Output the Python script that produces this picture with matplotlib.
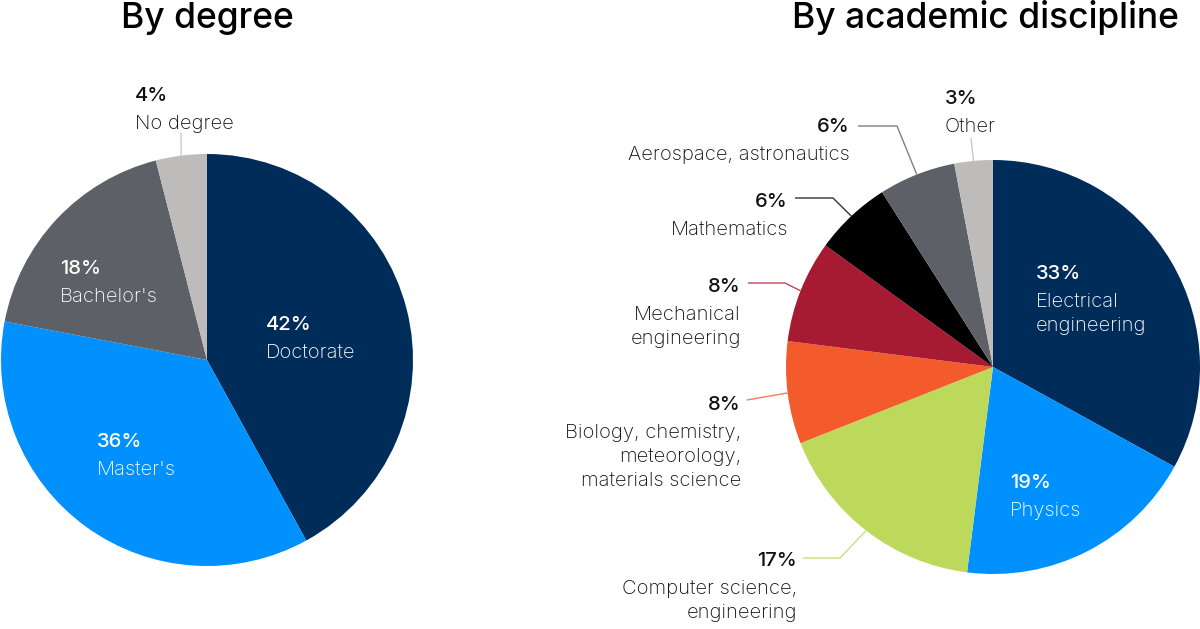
import numpy as np
import matplotlib.pyplot as plt

plt.rcParams['font.family'] = ['Inter', 'DejaVu Sans']

W, H = 1200, 629

# data
degree_labels = ["Doctorate", "Master's", "Bachelor's", "No degree"]
degree_values = [42, 36, 18, 4]
degree_colors = ['#002C5A', '#0091FF', '#5D6066', '#BEBCBA']

disc_labels = ["Electrical\nengineering", "Physics", "Computer science,\nengineering",
               "Biology, chemistry,\nmeteorology,\nmaterials science",
               "Mechanical\nengineering", "Mathematics", "Aerospace, astronautics", "Other"]
disc_values = [33, 19, 17, 8, 8, 6, 6, 3]
disc_colors = ['#002C5A', '#0091FF', '#BCD95B', '#F45B2C', '#A61A32', '#000000', '#5D6066', '#BEBCBA']

# label layout in image pixels: (x, baseline of pct, ha, text colour, leader elbow, leader end)
degree_layout = [
    (266, 330, 'left', 'white', None, None),
    (97, 447, 'left', 'white', None, None),
    (60, 274, 'left', 'white', None, None),
    (135, 101, 'left', '#111111', (181, 133), None),
]
disc_layout = [
    (1036, 279, 'left', 'white', None, None),
    (1010, 488, 'left', 'white', None, None),
    (797, 566, 'right', '#111111', (840, 558), (803, 558)),
    (741, 410, 'right', '#111111', None, (747, 400)),
    (741, 292, 'right', '#111111', (785, 283), (748, 283)),
    (788, 207, 'right', '#111111', (833, 198), (795, 198)),
    (850, 132, 'right', '#111111', (897, 126), (858, 126)),
    (945, 104, 'left', '#111111', (971, 138), None),
]

fig = plt.figure(figsize=(W / 100, H / 100), dpi=100)
ax = fig.add_axes([0, 0, 1, 1])


def Y(y):
    return H - y


def draw_pie(values, labels, colors, layout, cx, cy, r):
    wedges, _ = ax.pie(values, colors=colors, startangle=90, counterclock=False,
                       center=(cx, Y(cy)), radius=r, wedgeprops=dict(linewidth=0))
    for i, (w, lab, col) in enumerate(zip(wedges, labels, colors)):
        x, yb, ha, tc, elbow, end = layout[i]
        ax.text(x, Y(yb), f"{values[i]}%", ha=ha, va='baseline', fontsize=14.5,
                fontweight='medium', color=tc)
        for j, line in enumerate(lab.split('\n')):
            ax.text(x, Y(yb + 28 + j * 24), line, ha=ha, va='baseline',
                    fontsize=14.5, fontweight='light', color=tc)
        if elbow is None and end is None:
            continue
        mid = np.deg2rad((w.theta1 + w.theta2) / 2)
        xs = [cx + r * np.cos(mid)]
        ys = [Y(cy) + r * np.sin(mid)]
        for p in (elbow, end):
            if p is not None:
                xs.append(p[0])
                ys.append(Y(p[1]))
        ax.plot(xs, ys, color=col, lw=1, alpha=0.8, solid_capstyle='butt')


draw_pie(degree_values, degree_labels, degree_colors, degree_layout, 207, 360, 206)
draw_pie(disc_values, disc_labels, disc_colors, disc_layout, 993, 367, 207)

ax.text(207, Y(28), "By degree", ha='center', va='baseline', fontsize=25.5, fontweight='medium')
ax.text(985, Y(28), "By academic discipline", ha='center', va='baseline', fontsize=25.5,
        fontweight='medium')

ax.set_xlim(0, W)
ax.set_ylim(0, H)
ax.set_aspect('auto')
ax.axis('off')

fig.savefig('out.png', dpi=100)
